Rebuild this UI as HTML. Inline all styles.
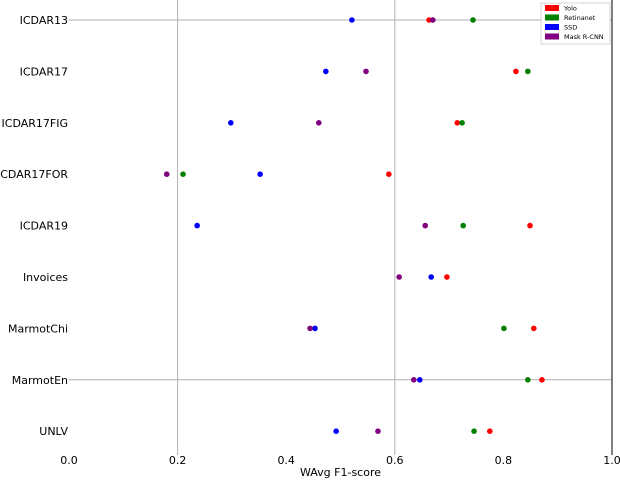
<!DOCTYPE html>
<html><head><meta charset="utf-8"><style>
body{margin:0;background:#fff;font-family:"Liberation Sans","DejaVu Sans",sans-serif}
svg text{font-family:"DejaVu Sans","Liberation Sans",sans-serif}
</style></head><body>
<svg id="chart" width="620" height="478" xmlns="http://www.w3.org/2000/svg"></svg>
<script>
const categories=["ICDAR13","ICDAR17","ICDAR17FIG","ICDAR17FOR","ICDAR19","Invoices","MarmotChi","MarmotEn","UNLV"];
const seriesNames=["Yolo","Retinanet","SSD","Mask R-CNN"];
const seriesColors=["#ff0000","#008000","#0000ff","#800080"];
const yolo=[0.663,0.823,0.715,0.589,0.849,0.696,0.856,0.871,0.775];
const retinanet=[0.744,0.845,0.724,0.210,0.726,null,0.801,0.845,0.746];
const ssd=[0.521,0.473,0.298,0.352,0.236,0.667,0.453,0.646,0.492];
const maskrcnn=[0.670,0.547,0.460,0.180,0.656,0.608,0.444,0.635,0.569];
const xTicks=[0.0,0.2,0.4,0.6,0.8,1.0];
const gridX=[0.2,0.6];
const gridCats=["ICDAR13","MarmotEn"];
const xLabel="WAvg F1-score";

const svg=document.getElementById('chart');
const NS="http://www.w3.org/2000/svg";
const x0=69,x1=612,yTop=20,yStep=51.4;
const xs=v=>x0+v*(x1-x0);
const ys=i=>yTop+i*yStep;
function mk(tag,attrs,parent){const e=document.createElementNS(NS,tag);for(const k in attrs)e.setAttribute(k,attrs[k]);(parent||svg).appendChild(e);return e;}

gridX.forEach(v=>{const l=mk('line',{x1:xs(v),x2:xs(v),y1:0,y2:455,stroke:'#b0b0b0','stroke-width':1});

});
gridCats.forEach(c=>{const i=categories.indexOf(c);const l=mk('line',{x1:x0,x2:x1,y1:ys(i),y2:ys(i),stroke:'#b0b0b0','stroke-width':1});

});
const border=mk('line',{x1:x1,x2:x1,y1:0,y2:455,stroke:'#000','stroke-width':1});



categories.forEach((c,i)=>{const t=mk('text',{x:68,y:ys(i)+4,'text-anchor':'end','font-size':11,fill:'#000'});t.textContent=c;

});
xTicks.forEach(v=>{const t=mk('text',{x:xs(v),y:464,'text-anchor':'middle','font-size':11,fill:'#000'});t.textContent=v.toFixed(1);

});
const xl=mk('text',{x:(x0+x1)/2,y:476,'text-anchor':'middle','font-size':11,fill:'#000'});xl.textContent=xLabel;



const allSeries=[yolo,retinanet,ssd,maskrcnn];
allSeries.forEach((arr,s)=>{arr.forEach((v,i)=>{if(v==null)return;
const c=mk('circle',{cx:xs(v),cy:ys(i),r:2.8,fill:seriesColors[s]});

});});

const lg=mk('g',{});


mk('rect',{x:541,y:3,width:69,height:41,fill:'#fff',stroke:'#ccc','stroke-width':0.8},lg);
seriesNames.forEach((n,s)=>{const y=8+s*9.5;
const sw=mk('rect',{x:545,y:y-3,width:14,height:6,fill:seriesColors[s]},lg);


const t=mk('text',{x:564,y:y+2.5,'font-size':6.5,fill:'#000'},lg);t.textContent=n;

});
</script>
</body></html>
